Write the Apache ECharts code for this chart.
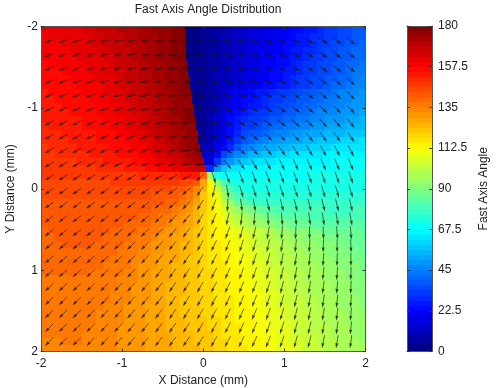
<!DOCTYPE html>
<html><head><meta charset="utf-8">
<style>html,body{margin:0;padding:0;background:#fff}#c{width:500px;height:388px}</style>
<script src="https://cdn.jsdelivr.net/npm/echarts@6/dist/echarts.min.js"></script>
</head><body><div id="c"></div>
<script>
const xTicks=[-2,-1,0,1,2];
const colorbarTicks=[0,22.5,45,67.5,90,112.5,135,157.5,180];
const arrowXs=[-1.90,-1.73,-1.56,-1.39,-1.22,-1.05,-0.89,-0.72,-0.55,-0.38,-0.21,-0.04,0.13,0.30,0.47,0.63,0.80,0.97,1.14,1.31,1.48,1.65,1.82];
const arrowYs=[-1.82,-1.65,-1.48,-1.32,-1.15,-0.98,-0.81,-0.64,-0.47,-0.30,-0.14,0.03,0.20,0.37,0.54,0.70,0.87,1.04,1.21,1.38,1.54,1.71,1.88];
// X position of the 180/0 seam, one value per table row from the top
const seamXs=[-0.22,-0.22,-0.22,-0.21,-0.21,-0.20,-0.19,-0.18,-0.17,-0.15,-0.14,-0.13,-0.11,-0.10,-0.09,-0.07,-0.06,-0.04,-0.02,0.01,0.03];
// Fast axis angle (degrees), 47 rows top to bottom, 47 columns left to right
const angleRows=[
[161,161,162,162,163,163,164,165,166,167,168,169,170,171,172,173,175,176,177,178,179,1,2,3,5,7,8,10,12,13,15,16,17,19,20,22,23,25,27,28,30,31,32,34,35,37,38],
[160,161,161,162,162,163,163,164,165,166,167,168,169,171,172,173,174,176,177,178,179,1,2,3,5,7,9,10,12,14,15,17,18,19,21,22,24,26,27,29,30,32,33,35,36,38,39],
[159,160,160,161,162,162,163,164,165,166,167,168,169,170,171,173,174,175,177,178,179,1,2,4,5,7,9,11,13,14,16,17,19,20,22,23,25,26,28,30,31,33,34,36,37,39,40],
[158,159,160,160,161,161,162,163,164,165,166,167,168,170,171,172,174,175,176,178,179,1,2,4,6,7,9,11,13,15,16,18,19,21,22,24,26,27,29,30,32,34,35,37,38,40,41],
[158,158,159,159,160,161,161,162,163,164,165,166,168,169,170,172,173,175,176,178,179,1,2,4,6,8,10,11,13,15,17,18,20,21,23,25,26,28,30,31,33,35,36,38,39,41,42],
[157,158,158,159,159,160,161,162,162,163,164,166,167,168,170,171,173,174,176,177,179,1,3,4,6,8,10,12,14,16,17,19,20,22,24,25,27,29,31,32,34,35,37,39,40,42,43],
[156,157,157,158,159,159,160,161,162,163,164,165,166,168,169,171,172,174,175,177,179,1,3,5,7,9,11,13,14,16,18,19,21,23,25,26,28,30,31,33,35,36,38,39,41,43,44],
[156,156,157,157,158,159,159,160,161,162,163,164,166,167,169,170,172,173,175,177,178,1,3,5,7,9,11,13,15,17,18,20,22,24,25,27,29,31,32,34,35,37,39,40,42,44,45],
[155,155,156,156,157,158,159,159,160,161,162,164,165,166,168,169,171,173,175,176,178,1,3,5,7,9,12,14,16,17,19,21,23,24,26,28,30,31,33,35,36,38,40,41,43,45,47],
[154,155,155,156,157,157,158,159,160,161,162,163,164,166,167,169,171,172,174,176,178,179,2,4,7,10,14,17,20,22,24,26,28,30,32,33,35,36,38,39,41,42,43,45,46,47,48],
[154,154,155,155,156,157,157,158,159,160,161,162,164,165,167,168,170,172,174,175,177,179,2,4,7,11,14,18,21,23,25,27,29,31,33,34,36,37,39,40,42,43,44,46,47,48,49],
[153,154,154,155,155,156,157,157,158,159,160,162,163,164,166,168,170,171,173,175,177,179,2,5,8,11,15,19,22,24,26,28,30,32,34,35,37,38,40,41,43,44,45,47,48,49,50],
[152,153,153,154,155,155,156,157,158,159,160,161,162,164,165,167,169,171,173,175,177,179,2,5,8,12,16,21,24,26,29,31,33,35,36,38,39,40,42,43,45,46,47,48,49,50,52],
[152,152,153,153,154,154,155,156,157,158,159,160,162,163,165,166,168,170,172,174,176,178,2,5,9,13,18,23,26,29,31,33,35,37,39,40,41,43,44,46,47,48,49,50,52,53,54],
[151,152,152,153,153,154,155,155,156,157,158,160,161,162,164,166,167,169,171,173,175,177,179,4,8,13,18,23,28,31,33,35,38,40,41,43,44,46,47,49,50,51,52,53,54,55,56],
[150,151,151,152,152,153,154,154,155,156,157,158,160,161,163,164,166,168,170,172,174,176,179,4,9,14,19,25,30,34,37,39,41,43,45,47,48,50,51,52,53,54,55,56,57,58,59],
[150,150,151,151,152,152,153,154,155,155,156,157,159,160,161,163,165,167,169,171,173,176,178,4,9,15,21,27,33,38,41,44,46,48,49,51,52,53,55,56,57,58,59,60,60,61,62],
[149,150,150,151,151,152,152,153,154,154,155,156,157,159,160,162,164,165,167,170,172,175,178,4,10,17,24,30,37,43,46,49,51,53,54,55,57,58,59,60,61,61,62,62,63,63,64],
[149,149,150,150,150,151,151,152,153,153,154,155,156,157,159,160,162,164,166,168,171,174,177,5,14,24,34,40,46,50,54,56,58,59,60,61,62,63,63,64,64,65,65,66,66,66,66],
[148,148,149,149,149,150,150,151,151,152,153,153,154,155,156,158,160,161,163,165,167,170,174,178,18,31,43,50,54,58,60,62,63,64,65,65,66,66,67,67,67,67,68,68,68,68,68],
[147,148,148,148,148,149,149,149,150,150,151,151,152,153,154,155,156,158,159,161,163,165,168,173,30,50,58,62,64,65,66,67,67,68,68,68,69,69,69,69,69,70,70,70,70,70,70],
[147,147,147,147,147,147,147,147,148,148,148,149,149,149,150,150,150,151,151,151,152,152,152,140,95,72,69,69,69,70,70,70,70,70,70,70,70,70,70,71,71,71,71,71,71,71,71],
[146,146,146,146,146,146,146,146,146,146,147,147,147,147,147,147,147,147,147,147,146,145,142,128,112,92,79,74,72,71,71,71,71,71,71,71,71,71,71,71,71,72,72,72,72,72,72],
[145,145,145,145,145,145,145,145,145,145,145,145,145,145,145,145,145,144,144,143,142,139,134,124,115,103,88,80,75,73,72,72,72,72,72,72,72,72,72,73,73,73,73,73,73,73,73],
[144,144,144,144,144,144,144,144,144,144,144,144,144,144,144,144,143,143,142,141,139,136,130,122,116,107,95,86,80,77,75,74,74,74,74,74,74,74,74,74,74,74,74,75,75,75,75],
[143,143,143,143,143,143,143,143,143,143,143,143,143,143,143,142,142,141,140,139,137,133,128,121,116,110,101,93,87,83,80,78,77,76,76,76,76,76,76,76,76,76,76,76,77,77,77],
[142,142,143,143,143,143,143,143,143,143,143,142,142,142,142,141,140,139,138,136,134,131,126,121,116,112,106,100,95,91,88,85,83,82,81,80,80,79,79,79,79,78,78,78,78,79,79],
[142,142,142,143,143,143,143,143,142,142,142,142,141,141,140,139,138,137,136,134,132,129,125,120,116,113,108,103,99,96,93,91,88,86,85,84,83,82,82,81,81,81,80,80,80,80,81],
[141,141,141,142,142,143,143,142,142,141,141,141,140,140,139,138,137,135,134,132,130,127,124,120,116,114,110,106,103,100,98,95,93,91,89,88,87,86,85,84,84,83,83,82,82,82,83],
[140,141,141,141,142,143,143,142,141,141,140,140,139,138,137,136,135,133,132,130,128,126,123,120,116,115,113,110,108,106,104,102,99,97,95,93,92,91,90,88,88,87,86,86,85,85,84],
[140,140,141,141,142,142,142,141,141,140,139,139,138,137,136,135,134,132,131,129,127,125,122,120,117,115,114,112,109,107,105,103,101,99,97,96,94,93,92,91,90,89,88,88,87,86,85],
[139,140,140,141,141,141,141,140,140,139,138,138,137,136,135,134,132,131,130,128,126,124,122,120,117,116,114,112,110,108,106,104,102,100,99,97,96,95,94,93,92,91,90,89,88,87,86],
[139,139,140,140,140,140,140,139,139,138,138,137,136,135,134,133,131,130,129,127,126,124,122,120,118,116,115,113,111,109,107,105,103,102,100,99,97,96,95,94,93,92,91,90,89,88,87],
[138,139,139,139,139,139,139,139,138,138,137,136,135,134,133,132,131,129,128,127,125,123,122,120,118,117,115,113,111,110,108,106,105,103,101,100,99,97,96,95,94,93,92,91,90,89,88],
[138,138,138,138,138,138,138,138,138,137,136,135,135,134,132,131,130,129,127,126,125,123,121,120,118,117,116,114,112,111,109,107,106,104,102,101,100,98,97,96,95,94,93,92,91,90,88],
[138,138,138,138,138,138,138,137,137,136,136,135,134,133,132,131,129,128,127,126,124,123,121,120,119,117,116,114,113,111,110,108,106,105,103,102,100,99,98,96,96,95,94,93,92,91,89],
[137,137,137,137,137,137,137,137,136,136,135,134,134,133,131,130,129,128,127,125,124,122,121,120,119,118,116,115,113,112,110,109,107,105,104,102,101,100,98,97,96,95,94,93,92,91,90],
[137,137,137,137,137,137,137,136,136,135,135,134,133,132,131,130,129,128,126,125,124,122,121,120,119,118,117,115,114,112,111,109,108,106,104,103,102,100,99,98,97,96,95,94,93,92,91],
[137,137,137,137,137,136,136,136,135,135,134,134,133,132,131,130,129,127,126,125,124,122,121,120,119,118,117,115,114,113,111,110,108,107,105,104,102,101,100,98,97,96,95,94,93,92,91],
[136,136,136,136,136,136,136,135,135,135,134,133,133,132,131,130,128,127,126,125,123,122,121,120,119,118,117,116,114,113,112,110,109,107,106,104,103,102,100,99,98,97,96,95,94,93,92],
[136,136,136,136,136,136,135,135,135,134,134,133,132,131,130,129,128,127,126,125,123,122,121,120,119,118,117,116,115,113,112,111,109,108,106,105,104,102,101,100,98,97,96,95,94,93,92],
[136,136,136,136,136,136,135,135,134,134,133,133,132,131,130,129,128,127,126,125,123,122,121,120,119,118,117,116,115,114,113,111,110,108,107,105,104,103,102,100,99,98,97,96,95,94,93],
[135,135,135,135,135,135,135,135,134,134,133,133,132,131,130,129,128,127,126,125,124,123,122,121,120,119,118,116,115,114,113,112,110,109,107,106,105,103,102,101,100,98,97,96,95,94,93],
[135,135,135,135,135,135,135,134,134,133,133,132,132,131,130,129,128,127,126,125,124,123,122,121,120,119,118,117,116,114,113,112,111,109,108,107,105,104,103,101,100,99,98,97,96,95,94],
[135,135,135,135,135,135,134,134,134,133,133,132,132,131,130,129,128,128,127,126,125,124,123,122,121,120,118,117,116,115,114,112,111,110,108,107,106,104,103,102,101,99,98,97,96,95,95],
[134,134,134,135,135,135,134,134,134,133,133,132,131,131,130,129,129,128,127,126,125,124,123,122,121,120,119,118,116,115,114,113,112,110,109,107,106,105,104,102,101,100,99,98,97,96,95],
[134,134,134,134,134,134,134,134,134,133,133,132,131,131,130,129,129,128,127,126,125,124,124,123,122,120,119,118,117,116,115,113,112,111,109,108,107,105,104,103,102,100,99,98,97,96,96]
];

const FONT='"Liberation Sans",Arial,sans-serif';
const TXT='#222', AXC='#555';
const clamp=v=>Math.max(0,Math.min(1,v));
function jet(v){ // MATLAB jet with 64 steps over 0..180
  const lev=Math.min(63,Math.floor(v/180*64)), t=(lev+.5)/64;
  const c=k=>Math.round(255*clamp(1.5-Math.abs(4*t-k)));
  return `rgb(${c(3)},${c(2)},${c(1)})`;
}
const nCells=angleRows.length, cell=4/nCells;
const heat=[];
angleRows.forEach((row,r)=>row.forEach((v,c)=>heat.push([-2+(c+.5)*cell,-2+(r+.5)*cell,v,r,c])));
const arrows=[];
arrowYs.forEach(y=>arrowXs.forEach(x=>{
  const r=Math.min(nCells-1,Math.floor((y+2)/cell)), c=Math.min(nCells-1,Math.floor((x+2)/cell));
  arrows.push([x,y,angleRows[r][c]]);
}));
const barStep=180/64, barLevels=[];
for(let i=0;i<64;i++) barLevels.push((i+.5)*barStep);

function renderCell(p,api){
  const x=api.value(0),y=api.value(1),v=api.value(2),r=api.value(3),c=api.value(4);
  const a=api.coord([x-cell/2,y-cell/2]), b=api.coord([x+cell/2,y+cell/2]);
  const x0=Math.round(a[0]),y0=Math.round(a[1]),x1=Math.round(b[0]),y1=Math.round(b[1]);
  const seam=seamXs[r];
  if(seam!==undefined && seam>=x-cell/2 && seam<x+cell/2){
    const sx=Math.round(api.coord([seam,y])[0]);
    return {type:'group',silent:true,children:[
      {type:'rect',shape:{x:x0,y:y0,width:sx-x0,height:y1-y0},style:{fill:jet(angleRows[r][c-1])}},
      {type:'rect',shape:{x:sx,y:y0,width:x1-sx,height:y1-y0},style:{fill:jet(angleRows[r][c+1])}}
    ]};
  }
  return {type:'rect',shape:{x:x0,y:y0,width:x1-x0,height:y1-y0},style:{fill:jet(v)},silent:true};
}
function renderArrow(p,api){
  const c=api.coord([api.value(0),api.value(1)]), th=api.value(2)*Math.PI/180;
  const s=Math.sin(th),co=Math.cos(th),L=10+3.3*s*s;
  const tx=c[0]-co*L/2,ty=c[1]-s*L/2,hx=c[0]+co*L/2,hy=c[1]+s*L/2;
  const bx=hx-co*5,by=hy-s*5,w=1.5;
  const col='rgba(25,20,15,0.8)';
  return {type:'group',silent:true,children:[
    {type:'line',shape:{x1:tx,y1:ty,x2:bx,y2:by},style:{stroke:col,lineWidth:0.8}},
    {type:'polygon',shape:{points:[[hx,hy],[bx-s*w,by+co*w],[bx+s*w,by-co*w]]},style:{fill:col}}
  ]};
}
function renderBar(p,api){
  const v=api.value(0);
  const a=api.coord([0,v+barStep/2]), b=api.coord([1,v-barStep/2]);
  const y0=Math.round(a[1]),y1=Math.round(b[1]);
  return {type:'rect',shape:{x:a[0],y:y0,width:b[0]-a[0],height:y1-y0},style:{fill:jet(v)},silent:true};
}
const boxAxis=(o)=>Object.assign({type:'value',min:-2,max:2,interval:1,z:10,
  axisLine:{show:true,onZero:false,lineStyle:{color:AXC,width:1}},
  axisTick:{show:true,inside:true,length:3,lineStyle:{color:'#333'}},
  splitLine:{show:false},
  axisLabel:{show:false}},o);
const labelStyle={show:true,color:TXT,fontFamily:FONT,fontSize:12};
const nameStyle={color:TXT,fontFamily:FONT,fontSize:12};
const chart=echarts.init(document.getElementById('c'),null,{renderer:'canvas'});
chart.setOption({
  animation:false,
  backgroundColor:'#fff',
  title:{text:'Fast Axis Angle Distribution',left:203,top:-1,textAlign:'center',
    textStyle:{color:TXT,fontFamily:FONT,fontSize:12,fontWeight:'normal'}},
  grid:[
    {left:41,top:26.5,width:324.5,height:325,containLabel:false,outerBoundsMode:'none'},
    {left:407,top:26,width:25,height:325.5,containLabel:false,outerBoundsMode:'none'}
  ],
  xAxis:[
    boxAxis({gridIndex:0,position:'bottom',name:'X Distance (mm)',nameLocation:'middle',nameGap:22,nameTextStyle:nameStyle,
      axisLabel:Object.assign({},labelStyle,{margin:6})}),
    boxAxis({gridIndex:0,position:'top'}),
    {type:'value',gridIndex:1,min:0,max:1,position:'bottom',z:10,axisLabel:{show:false},axisTick:{show:false},splitLine:{show:false},axisLine:{show:true,onZero:false,lineStyle:{color:AXC}}},
    {type:'value',gridIndex:1,min:0,max:1,position:'top',z:10,axisLabel:{show:false},axisTick:{show:false},splitLine:{show:false},axisLine:{show:true,onZero:false,lineStyle:{color:AXC}}}
  ],
  yAxis:[
    boxAxis({gridIndex:0,position:'left',inverse:true,name:'Y Distance (mm)',nameLocation:'middle',nameGap:17,nameRotate:90,nameTextStyle:nameStyle,
      axisLabel:Object.assign({},labelStyle,{margin:3})}),
    boxAxis({gridIndex:0,position:'right',inverse:true}),
    {type:'value',gridIndex:1,min:0,max:180,interval:22.5,position:'right',z:10,
      name:'Fast Axis Angle',nameLocation:'middle',nameGap:46,nameRotate:90,nameTextStyle:nameStyle,
      axisLine:{show:true,onZero:false,lineStyle:{color:AXC}},
      axisTick:{show:true,inside:true,length:3,lineStyle:{color:'#333'}},splitLine:{show:false},
      axisLabel:Object.assign({},labelStyle,{margin:6,formatter:v=>String(v)})},
    {type:'value',gridIndex:1,min:0,max:180,interval:22.5,position:'left',z:10,
      axisLine:{show:true,onZero:false,lineStyle:{color:AXC}},
      axisTick:{show:true,inside:true,length:3,lineStyle:{color:'#333'}},splitLine:{show:false},axisLabel:{show:false}}
  ],
  series:[
    {type:'custom',name:'Fast Axis Angle',xAxisIndex:0,yAxisIndex:0,data:heat,renderItem:renderCell,clip:true,silent:true,z:2,encode:{x:0,y:1}},
    {type:'custom',name:'Fast Axis Direction',xAxisIndex:0,yAxisIndex:0,data:arrows,renderItem:renderArrow,clip:true,silent:true,z:3,encode:{x:0,y:1}},
    {type:'custom',name:'Colorbar',xAxisIndex:2,yAxisIndex:2,data:barLevels.map(v=>[v]),renderItem:renderBar,silent:true,z:2,encode:{y:0}}
  ]
});
</script></body></html>
